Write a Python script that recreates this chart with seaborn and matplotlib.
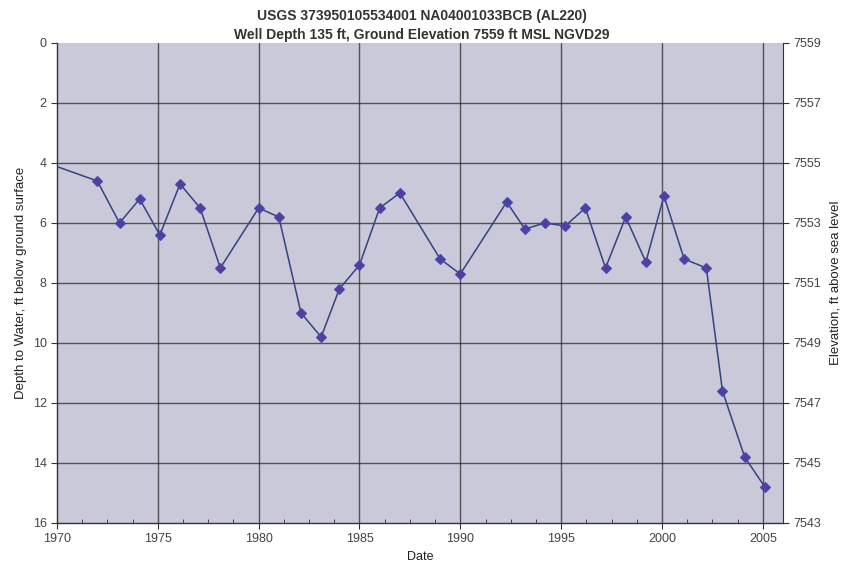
import numpy as np
import pandas as pd
import matplotlib
matplotlib.use("Agg")
import matplotlib.pyplot as plt
from matplotlib.ticker import MultipleLocator
import seaborn as sns

# 数据
years = [1969.5, 1972.0, 1973.1, 1974.1, 1975.1, 1976.1, 1977.1, 1978.1,
         1980.0, 1981.0, 1982.1, 1983.1, 1984.0, 1985.0, 1986.0, 1987.0,
         1989.0, 1990.0, 1992.3, 1993.2, 1994.2, 1995.2, 1996.2, 1997.2,
         1998.2, 1999.2, 2000.1, 2001.1, 2002.2, 2003.0, 2004.1, 2005.1]
depth = [4.0, 4.6, 6.0, 5.2, 6.4, 4.7, 5.5, 7.5,
         5.5, 5.8, 9.0, 9.8, 8.2, 7.4, 5.5, 5.0,
         7.2, 7.7, 5.3, 6.2, 6.0, 6.1, 5.5, 7.5,
         5.8, 7.3, 5.1, 7.2, 7.5, 11.6, 13.8, 14.8]
ground_elev = 7559
x_ticks = [1970, 1975, 1980, 1985, 1990, 1995, 2000, 2005]
depth_ticks = [0, 2, 4, 6, 8, 10, 12, 14, 16]
elev_ticks = [7559, 7557, 7555, 7553, 7551, 7549, 7547, 7545, 7543]

df = pd.DataFrame({"Date": years, "Depth": depth})

sns.set_style("white")
plt.rcParams["font.family"] = ["Liberation Sans", "DejaVu Sans"]

fig = plt.figure(figsize=(8.43, 5.77), dpi=100)
ax = fig.add_axes([0.0676, 0.0936, 0.8612, 0.8319])
ax.set_facecolor("#c9c9da")

# 网格线
for yv in depth_ticks[1:-1]:
    ax.axhline(yv, color="#2a2a2a", lw=1.0, alpha=0.75, zorder=1)
for xv in x_ticks[1:]:
    ax.axvline(xv, color="#2a2a2a", lw=1.0, alpha=0.75, zorder=1)

sns.lineplot(data=df, x="Date", y="Depth", ax=ax, color="#34427e", lw=1.1,
             marker="D", markersize=5.5, markerfacecolor="#5b3a9e",
             markeredgecolor="#3a4fb0", markeredgewidth=0.8, zorder=3)

ax.set_xlim(1970, 2006)
ax.set_ylim(16, 0)
ax.set_xticks(x_ticks)
ax.xaxis.set_minor_locator(MultipleLocator(1.25))
ax.set_yticks(depth_ticks)
ax.tick_params(axis="both", which="major", labelsize=9, labelcolor="#444444",
               direction="out", length=4, color="#333333", left=True, bottom=True)
ax.tick_params(axis="x", which="minor", direction="in", length=3,
               color="#333333", bottom=True)
for s in ["top", "right"]:
    ax.spines[s].set_visible(False)
for s in ["left", "bottom"]:
    ax.spines[s].set_color("#333333")
    ax.spines[s].set_linewidth(1.0)

ax.set_xlabel("Date", fontsize=9, color="#222222")
ax.set_ylabel("Depth to Water, ft below ground surface", fontsize=9.5,
              color="#222222", labelpad=4)

ax2 = ax.twinx()
ax2.set_ylim(ground_elev - 16, ground_elev)
ax2.set_yticks(elev_ticks)
ax2.tick_params(axis="y", labelsize=9, labelcolor="#444444", direction="out",
                length=4, color="#333333", right=True)
for s in ["top", "left", "bottom"]:
    ax2.spines[s].set_visible(False)
ax2.spines["right"].set_color("#333333")
ax2.set_ylabel("Elevation, ft above sea level", fontsize=9.5, color="#222222",
               labelpad=6)

fig.suptitle("USGS 373950105534001 NA04001033BCB (AL220)\n"
             "Well Depth 135 ft, Ground Elevation 7559 ft MSL NGVD29",
             fontsize=10, fontweight="bold", color="#333333", y=0.985,
             linespacing=1.45)

fig.savefig("out.png", dpi=100)
